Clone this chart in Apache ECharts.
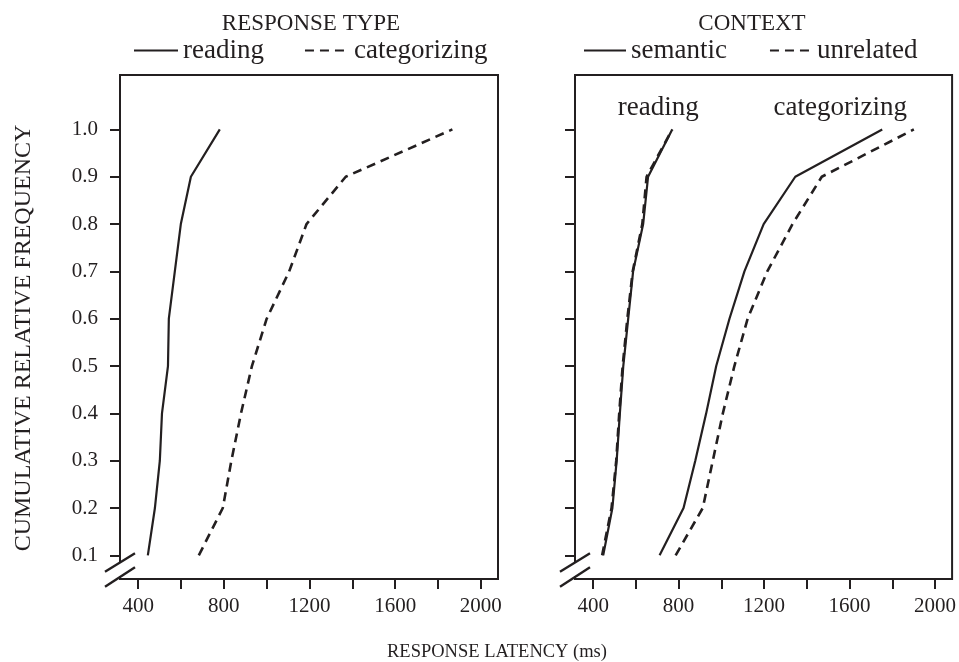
<!DOCTYPE html>
<html>
<head>
<meta charset="utf-8">
<script src="https://cdn.jsdelivr.net/npm/echarts@6/dist/echarts.min.js"></script>
<style>
  html, body { margin: 0; padding: 0; background: #fff; }
  #chart { width: 959px; height: 662px; }
</style>
</head>
<body>
<div id="chart"></div>
<script>
// Cumulative relative frequency levels (shared by every curve)
const cumFreq = [0.1, 0.2, 0.3, 0.4, 0.5, 0.6, 0.7, 0.8, 0.9, 1.0];

// Response latencies (ms) at each cumulative level
// Panel 1: response type
const readingRT      = [445, 478, 501, 511, 539, 543, 571, 599, 646, 781];
const categorizingRT = [683, 795, 835, 880, 931, 1000, 1105, 1186, 1369, 1867];
// Panel 2: context x response type
const semanticReading       = [447, 490, 510, 525, 541, 564, 587, 634, 657, 770];
const unrelatedReading      = [442, 486, 508, 522, 538, 560, 585, 630, 650, 770];
const semanticCategorizing  = [711, 823, 878, 929, 976, 1038, 1108, 1198, 1346, 1753];
const unrelatedCategorizing = [786, 913, 960, 1007, 1061, 1123, 1215, 1333, 1470, 1901];

// Axis ticks
const xTickValues  = [400, 600, 800, 1000, 1200, 1400, 1600, 1800, 2000];
const xLabelValues = [400, 800, 1200, 1600, 2000];
const yTickValues  = [0.1, 0.2, 0.3, 0.4, 0.5, 0.6, 0.7, 0.8, 0.9, 1.0];

const INK = '#231f20';
const FONT = '"Liberation Serif", "Times New Roman", serif';
const X_MIN = 315, X_MAX = 2080, Y_MIN = 0.05, Y_MAX = 1.115;
const TOP = 75, HEIGHT = 504;
const panels = [{ left: 120, width: 378 }, { left: 575, width: 380 }];

const pairs = xs => xs.map((x, i) => [x, cumFreq[i]]);

const solid  = { color: INK, width: 2.2, type: 'solid' };
const dashed = { color: INK, width: 2.6, type: [9, 6] };

function lineSeries(name, xs, gridIdx, style) {
  return {
    name, type: 'line', xAxisIndex: gridIdx, yAxisIndex: gridIdx,
    data: pairs(xs), symbol: 'none', lineStyle: style, color: INK,
    animation: false, silent: true
  };
}

// Text placed above the top end of a curve
function endNote(xs, text, offset) {
  const last = xs.length - 1;
  return {
    symbol: 'circle', symbolSize: 1, silent: true, animation: false,
    itemStyle: { color: 'rgba(0,0,0,0)' },
    label: { show: true, position: 'top', distance: 5, offset, formatter: text,
             fontFamily: FONT, fontSize: 27, color: INK },
    data: [{ coord: [xs[last], cumFreq[last]] }]
  };
}

const s3 = lineSeries('semantic', semanticReading, 1, solid);
s3.markPoint = endNote(semanticReading, 'reading', [-14, -3]);
const s5 = lineSeries('semantic', semanticCategorizing, 1, solid);
s5.markPoint = endNote(semanticCategorizing, 'categorizing', [-42, -3]);

const series = [
  lineSeries('reading', readingRT, 0, solid),
  lineSeries('categorizing', categorizingRT, 0, dashed),
  s3,
  lineSeries('unrelated', unrelatedReading, 1, dashed),
  s5,
  lineSeries('unrelated', unrelatedCategorizing, 1, dashed)
];

const grids = panels.map(p => ({
  left: p.left, width: p.width, top: TOP, height: HEIGHT,
  show: true, borderColor: INK, borderWidth: 2, backgroundColor: 'transparent'
}));

const xAxes = panels.map((p, i) => ({
  type: 'value', gridIndex: i, min: X_MIN, max: X_MAX,
  axisLine: { show: false }, splitLine: { show: false },
  axisTick: { show: true, inside: false, length: 10, customValues: xTickValues,
              lineStyle: { color: INK, width: 2 } },
  axisLabel: { show: true, customValues: xLabelValues, margin: 17,
               formatter: v => String(v),
               fontFamily: FONT, fontSize: 21, color: INK }
}));

const yAxes = panels.map((p, i) => ({
  type: 'value', gridIndex: i, min: Y_MIN, max: Y_MAX,
  axisLine: { show: false }, splitLine: { show: false },
  axisTick: { show: true, inside: false, length: 10, customValues: yTickValues,
              lineStyle: { color: INK, width: 2 } },
  axisLabel: { show: i === 0, customValues: yTickValues, margin: 22,
               formatter: v => v.toFixed(1),
               fontFamily: FONT, fontSize: 21, color: INK }
}));

const legendText = { fontFamily: FONT, fontSize: 27, color: INK, padding: [20, 0, 0, 0] };
const legendBase = {
  top: 32, itemHeight: 14, textStyle: legendText, selectedMode: false,
  itemStyle: { opacity: 0, borderWidth: 0 }
};
const legends = [
  Object.assign({ data: ['reading', 'categorizing'], left: 128, itemWidth: 44, itemGap: 40 }, legendBase),
  Object.assign({ data: ['semantic', 'unrelated'], left: 578, itemWidth: 42, itemGap: 42 }, legendBase)
];

// Axis-break marks at the lower-left corner of each panel
const breakMarks = [];
panels.forEach(p => {
  const cx = p.left, cy = TOP + HEIGHT;
  breakMarks.push({ type: 'rect', silent: true, z: 100,
    shape: { x: cx - 3, y: cy - 17, width: 6, height: 14 }, style: { fill: '#fff' } });
  breakMarks.push({ type: 'line', silent: true, z: 101,
    shape: { x1: cx - 15, y1: cy - 7.3, x2: cx + 15, y2: cy - 25.7 },
    style: { stroke: INK, lineWidth: 2.4 } });
  breakMarks.push({ type: 'line', silent: true, z: 101,
    shape: { x1: cx - 15, y1: cy + 7.7, x2: cx + 15, y2: cy - 11.7 },
    style: { stroke: INK, lineWidth: 2.4 } });
});

const texts = [
  { type: 'text', x: 311, y: 24, silent: true,
    style: { text: 'RESPONSE TYPE', font: '23px ' + FONT, fill: INK,
             textAlign: 'center', textVerticalAlign: 'middle' } },
  { type: 'text', x: 752, y: 24, silent: true,
    style: { text: 'CONTEXT', font: '23px ' + FONT, fill: INK,
             textAlign: 'center', textVerticalAlign: 'middle' } },
  { type: 'text', x: 497, y: 652, silent: true,
    style: { text: 'RESPONSE LATENCY (ms)', font: '18.5px ' + FONT, fill: INK,
             textAlign: 'center', textVerticalAlign: 'middle' } },
  { type: 'text', x: 24, y: 338, rotation: Math.PI / 2, silent: true,
    style: { text: 'CUMULATIVE RELATIVE FREQUENCY', font: '24px ' + FONT, fill: INK,
             textAlign: 'center', textVerticalAlign: 'middle' } }
];

const chart = echarts.init(document.getElementById('chart'), null, { renderer: 'canvas' });
chart.setOption({
  backgroundColor: '#fff',
  animation: false,
  grid: grids,
  xAxis: xAxes,
  yAxis: yAxes,
  legend: legends,
  series,
  graphic: texts.concat(breakMarks)
});
</script>
</body>
</html>
